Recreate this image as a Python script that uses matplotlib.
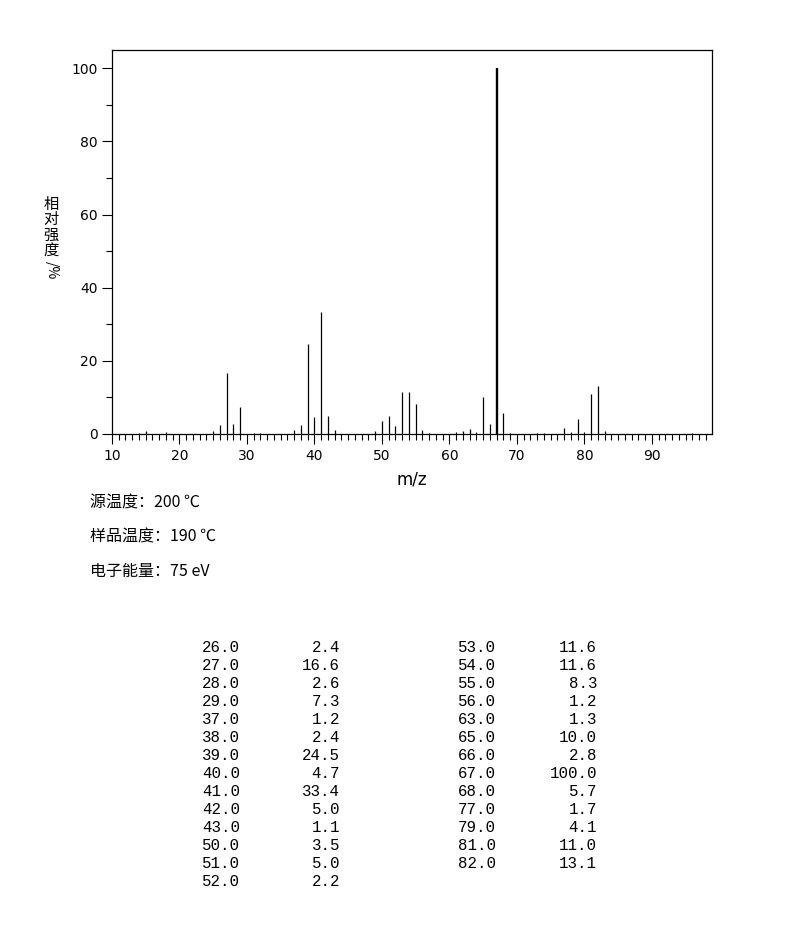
import numpy as np
import matplotlib.pyplot as plt
from matplotlib.ticker import MultipleLocator

# 质谱峰 (m/z, 相对强度 %)
mz = [14, 15, 18, 25, 26, 27, 28, 29, 31, 32, 37, 38, 39, 40, 41, 42, 43,
      49, 50, 51, 52, 53, 54, 55, 56, 57, 61, 62, 63, 64, 65, 66, 67, 68,
      69, 73, 74, 77, 78, 79, 80, 81, 82, 83, 96]
intensity = [0.4, 0.7, 0.5, 0.8, 2.4, 16.6, 2.6, 7.3, 0.4, 0.4, 1.2, 2.4,
             24.5, 4.7, 33.4, 5.0, 1.1, 0.9, 3.5, 5.0, 2.2, 11.6, 11.6, 8.3,
             1.2, 0.4, 0.5, 0.7, 1.3, 0.6, 10.0, 2.8, 100.0, 5.7, 0.4, 0.3,
             0.3, 1.7, 0.6, 4.1, 0.6, 11.0, 13.1, 0.9, 0.3]

conditions = ["源温度：200 ℃", "样品温度：190 ℃", "电子能量：75 eV"]

cjk = ['Noto Sans CJK SC', 'DejaVu Sans']
W, H = 794, 935
fig = plt.figure(figsize=(W / 100, H / 100), dpi=100)

# 轴区域 (像素)
x0, x1, y0, y1 = 112, 712, 50, 434
ax = fig.add_axes([x0 / W, 1 - y1 / H, (x1 - x0) / W, (y1 - y0) / H])

lw = [1.7 if v == 100 else 0.9 for v in intensity]
ax.vlines(mz, 0, intensity, colors='black', linewidths=lw)
ax.set_xlim(10, 98.9)
ax.set_ylim(0, 105)

ax.xaxis.set_major_locator(MultipleLocator(10))
ax.xaxis.set_minor_locator(MultipleLocator(1))
ax.yaxis.set_major_locator(MultipleLocator(20))
ax.yaxis.set_minor_locator(MultipleLocator(10))
ax.tick_params(which='major', direction='out', length=7.5, width=0.8,
               labelsize=10, pad=3)
ax.tick_params(which='minor', direction='out', length=4.3, width=0.8)
for s in ax.spines.values():
    s.set_linewidth(0.9)

ax.set_xlabel("m/z", fontsize=12, labelpad=6)

# 纵轴标题 (竖排)
for i, ch in enumerate("相对强度"):
    fig.text(51 / W, 1 - (204 + i * 15.5) / H, ch, family=cjk, fontsize=11,
             ha='center', va='center')
fig.text(52 / W, 1 - 270 / H, "/%", family=cjk, fontsize=10,
         rotation=270, ha='center', va='center')

for i, t in enumerate(conditions):
    fig.text(90 / W, 1 - (503 + i * 34) / H, t, family=cjk, fontsize=11.5,
             ha='left', va='center')

# 峰表 (强度 >= 1%)
rows = [(m, v) for m, v in zip(mz, intensity) if v >= 1.0]
nrow = (len(rows) + 1) // 2
col_x = [240, 340, 496, 597]
for k, (m, v) in enumerate(rows):
    c = k // nrow
    r = k % nrow
    y = 1 - (647 + r * 18) / H
    fig.text(col_x[2 * c] / W, y, f"{m:.1f}", family='Liberation Mono',
             fontsize=11.3, ha='right', va='center')
    fig.text(col_x[2 * c + 1] / W, y, f"{v:.1f}", family='Liberation Mono',
             fontsize=11.3, ha='right', va='center')

fig.savefig("out.png", dpi=100)
